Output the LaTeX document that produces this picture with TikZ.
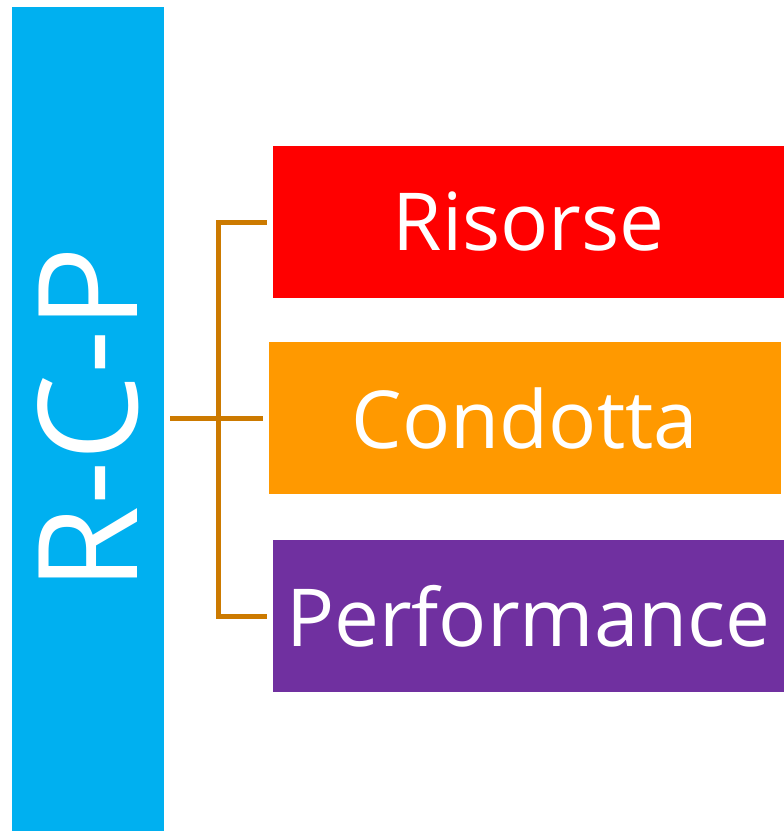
\documentclass[tikz,border=0pt]{standalone}
\usepackage{fontspec}
\setmainfont{Open Sans}
\usetikzlibrary{positioning}

\definecolor{rcpblue}{HTML}{00B0F0}
\definecolor{risred}{HTML}{FF0000}
\definecolor{conorange}{HTML}{FF9900}
\definecolor{perfpurple}{HTML}{7030A0}
\definecolor{linkbrown}{HTML}{CC7A00}

\begin{document}
\begin{tikzpicture}[
            x=1pt, y=-1pt,
            area/.style={rectangle, inner sep=0pt, minimum width=511pt, minimum height=152pt, text=white, font=\fontsize{80}{82}\selectfont},
            link/.style={draw=linkbrown, line width=5pt}
        ]
            \useasboundingbox (0,0) rectangle (784,831);

            % barra verticale con la sigla
            \node (rcp) [rectangle, inner sep=0pt, fill=rcpblue, minimum width=824pt, minimum height=152pt, rotate=90, text=white, font=\fontsize{138}{138}\selectfont] at (88,419) {R-C-P};

            \node (risorse) [area, fill=risred] at (528.5,222) {Risorse};
            \node (condotta) [area, fill=conorange, minimum width=512pt] at (525,418) {Condotta};
            \node (perf) [area, fill=perfpurple] at (528.5,616) {Performance};

            \coordinate (joint) at (218,418.5);

            \draw[link] ([xshift=-6pt]risorse.west) -| (joint) |- ([xshift=-6pt]perf.west);
            \draw[link] ([xshift=6pt]rcp.south |- joint) -- ([xshift=-6pt]condotta.west |- joint);
        \end{tikzpicture}
\end{document}
